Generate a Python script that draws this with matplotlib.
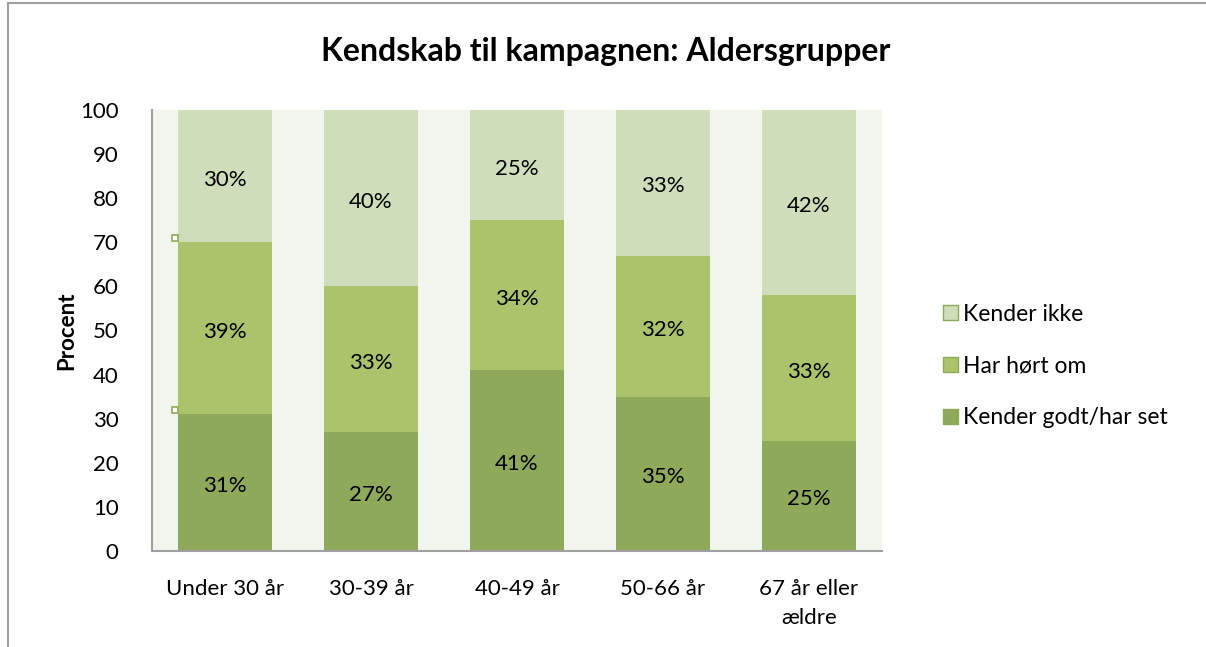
import numpy as np
import matplotlib.pyplot as plt
from matplotlib.patches import Patch

categories = ["Under 30 år", "30-39 år", "40-49 år", "50-66 år", "67 år eller\nældre"]
kender_godt = [31, 27, 41, 35, 25]
hoert_om = [39, 33, 34, 32, 33]
kender_ikke = [30, 40, 25, 33, 42]
series_names = ["Kender godt/har set", "Har hørt om", "Kender ikke"]
colors = ["#8FA95A", "#ABC46C", "#D0DDBA"]

plt.rcParams['font.family'] = ['Lato', 'DejaVu Sans']

fig = plt.figure(figsize=(12.06, 6.47), dpi=100)
ax = fig.add_axes([152/1206, 1 - 551/647, 730/1206, 441/647])
ax.set_facecolor("#F2F4EE")

x = np.arange(len(categories))
bottom = np.zeros(len(categories))
for vals, col in zip([kender_godt, hoert_om, kender_ikke], colors):
    vals = np.array(vals)
    ax.bar(x, vals, width=0.65, bottom=bottom, color=col, edgecolor="none")
    for xi, b, v in zip(x, bottom, vals):
        ax.text(xi, b + v / 2 - 0.8, f"{v}%", ha="center", va="center", fontsize=16)
    bottom = bottom + vals

# selection handles on first bar
tops = np.cumsum([kender_godt[0], hoert_om[0]])
ax.plot([-0.34] * 2, tops + 1, ls="none", marker="s", ms=5, mfc="white",
        mec="#8FA95A", mew=1.2, clip_on=False)

ax.set_xlim(-0.5, 4.5)
ax.set_ylim(0, 100)
ax.set_yticks(range(0, 101, 10))
ax.set_xticks(x)
ax.set_xticklabels(categories, fontsize=16, linespacing=1.55, va="top")
ax.tick_params(axis="y", labelsize=16, length=0, pad=24)
ax.tick_params(axis="x", length=0, pad=20)
for s in ["top", "right"]:
    ax.spines[s].set_visible(False)
for s in ["left", "bottom"]:
    ax.spines[s].set_color("#A0A0A0")
    ax.spines[s].set_linewidth(1.5)

ax.set_ylabel("Procent", fontsize=16, fontweight="bold", labelpad=2)
fig.text(606/1206, 1 - 52/647, "Kendskab til kampagnen: Aldersgrupper",
         ha="center", va="center", fontsize=23, fontweight="bold")

handles = [Patch(facecolor=c, edgecolor="#8FA95A", lw=1) for c in colors[::-1]]
leg = fig.legend(handles, series_names[::-1], loc="center left",
                 bbox_to_anchor=(922/1206, 1 - 366/647), frameon=False,
                 fontsize=16.5, handlelength=0.65, handleheight=0.65,
                 handletextpad=0.25, labelspacing=1.35)

# outer frame lines (left and top)
fig.add_artist(plt.Line2D([8/1206, 8/1206], [0, 1 - 3/647], color="#A0A0A0", lw=1.5))
fig.add_artist(plt.Line2D([8/1206, 1], [1 - 3/647, 1 - 3/647], color="#A0A0A0", lw=1.5))

fig.savefig("out.png", dpi=100)
